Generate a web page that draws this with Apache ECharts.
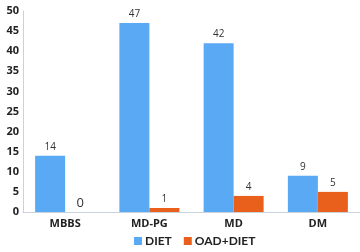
<!DOCTYPE html>
<html><head><meta charset="utf-8">
<script src="https://cdn.jsdelivr.net/npm/echarts@6/dist/echarts.min.js"></script>
<style>html,body{margin:0;padding:0;background:#fff}#c{width:360px;height:252px}</style>
</head><body><div id="c"></div>
<script>
const categories = ['MBBS', 'MD-PG', 'MD', 'DM'];
const diet = [14, 47, 42, 9];
const oadDiet = [0, 1, 4, 5];
const yTicks = [0, 5, 10, 15, 20, 25, 30, 35, 40, 45, 50];

const chart = echarts.init(document.getElementById('c'), null, {renderer: 'canvas'});
const lbl = {show: true, position: 'top', color: '#333', fontSize: 10, fontFamily: 'Open Sans', distance: 4};
chart.setOption({
  animation: false,
  grid: {left: 23, width: 342, top: 11, height: 201},
  legend: {
    bottom: 0, left: 129, itemWidth: 8, itemHeight: 8, itemGap: 12,
    icon: 'rect',
    textStyle: {fontSize: 12, fontWeight: 'bold', color: '#222', fontFamily: 'Lato', padding: [0, 0, 0, -2]},
    data: ['DIET', 'OAD+DIET']
  },
  xAxis: {
    type: 'category', data: categories,
    axisLine: {lineStyle: {color: '#c9d3de'}},
    axisTick: {show: false},
    axisLabel: {fontWeight: 'bold', fontSize: 11, color: '#222', fontFamily: 'Open Sans', margin: 6}
  },
  yAxis: {
    type: 'value', min: yTicks[0], max: yTicks[yTicks.length - 1], interval: 5,
    axisLine: {show: true, lineStyle: {color: '#c9d3de'}},
    axisTick: {show: false},
    splitLine: {show: false},
    axisLabel: {fontWeight: 'bold', fontSize: 11, color: '#222', fontFamily: 'Open Sans', margin: 4}
  },
  series: [
    {name: 'DIET', type: 'bar', data: diet, barWidth: 30, barGap: '0%',
     itemStyle: {color: '#5aa9f4'}, label: lbl},
    {name: 'OAD+DIET', type: 'bar', data: oadDiet.map(v => v === 0 ? {value: v, label: {fontSize: 13, distance: 2}} : v), barWidth: 30,
     itemStyle: {color: '#e8601c'}, label: lbl}
  ]
});
</script></body></html>
